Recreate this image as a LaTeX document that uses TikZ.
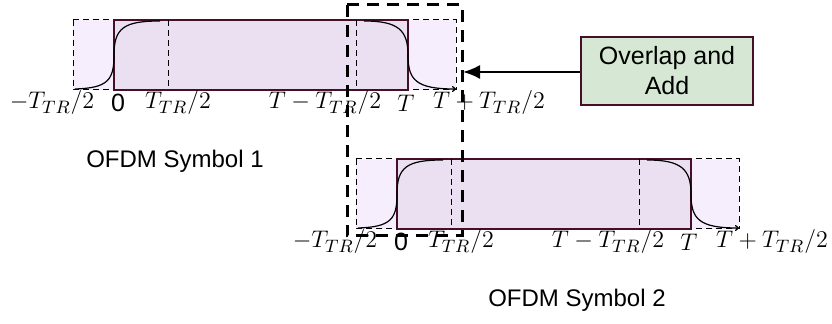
\documentclass[tikz,border=0pt]{standalone}
\usepackage{fontspec}
\setmainfont{Liberation Sans}
\usepackage{tikz}
\usetikzlibrary{positioning,arrows.meta}
\definecolor{padfill}{RGB}{247,238,253}
\definecolor{symfill}{RGB}{234,224,242}
\definecolor{symedge}{RGB}{70,15,40}
\definecolor{addfill}{RGB}{214,232,212}
\tikzset{
symout/.style={draw=black,dashed,dash pattern=on 3pt off 2pt,line width=0.5pt,fill=padfill},
symin/.style={draw=symedge,line width=0.6pt,fill=symfill},
trline/.style={draw=black,dash pattern=on 3pt off 2pt,line width=0.5pt},
ramp/.style={draw=black,line width=0.6pt},
tlab/.style={font=\fontsize{12.5}{14}\selectfont,inner sep=1pt},
caption/.style={font=\fontsize{12}{14}\selectfont},
olbox/.style={draw=black,line width=1.5pt,dash pattern=on 6pt off 4pt},
addbox/.style={draw=symedge,line width=1.2pt,fill=addfill,minimum width=86pt,minimum height=34pt,
inner sep=1pt,align=center,font=\fontsize{12.5}{15}\selectfont},
flowarrow/.style={-{Latex[length=8.5pt,width=7pt]},line width=1pt}
}

\begin{document}
\begin{tikzpicture}[x=0.5pt,y=-0.5pt]
\useasboundingbox (0,0) rectangle (832,324);
% two OFDM symbols, second one shifted
\foreach \dx/\dy/\n in {0/0/1,283/139/2}{
\begin{scope}[shift={(\dx,\dy)}]
\draw[symout] (73,20) rectangle (456,90);
\draw[symin] (114,20) rectangle (408,90);
\draw[trline] (168,20) -- (168,90);
\draw[trline] (356,20) -- (356,90);
\draw[ramp] (75,89) .. controls (108,88) and (114,80) .. (114,55)
  .. controls (114,28) and (124,21) .. (160,21);
\draw[ramp,-{To[length=2pt,width=3pt]}] (364,21) .. controls (398,21) and (408,30) .. (408,55)
  .. controls (408,80) and (416,89) .. (456,89);
\node[tlab] (m\n) at (52,103) {$-T_{TR}/2$};
\node[tlab] (z\n) at (118,103) {0};
\node[tlab] (h\n) at (178,103) {$T_{TR}/2$};
\node[tlab] (a\n) at (325,103) {$T-T_{TR}/2$};
\node[tlab] (t\n) at (406,103) {$T$};
\node[tlab] (p\n) at (489,103) {$T+T_{TR}/2$};
\end{scope}
}
\node[caption] (s1) at (175,161) {OFDM Symbol 1};
\node[caption] (s2) at (577,300) {OFDM Symbol 2};
% overlap region
\draw[olbox] (347,5) rectangle (462,236);
\node[addbox] (add) at (667,71) {Overlap and\\Add};
\coordinate (ol) at (463,72);
\draw[flowarrow] (add.west|-ol) -- (ol);
\end{tikzpicture}
\end{document}
